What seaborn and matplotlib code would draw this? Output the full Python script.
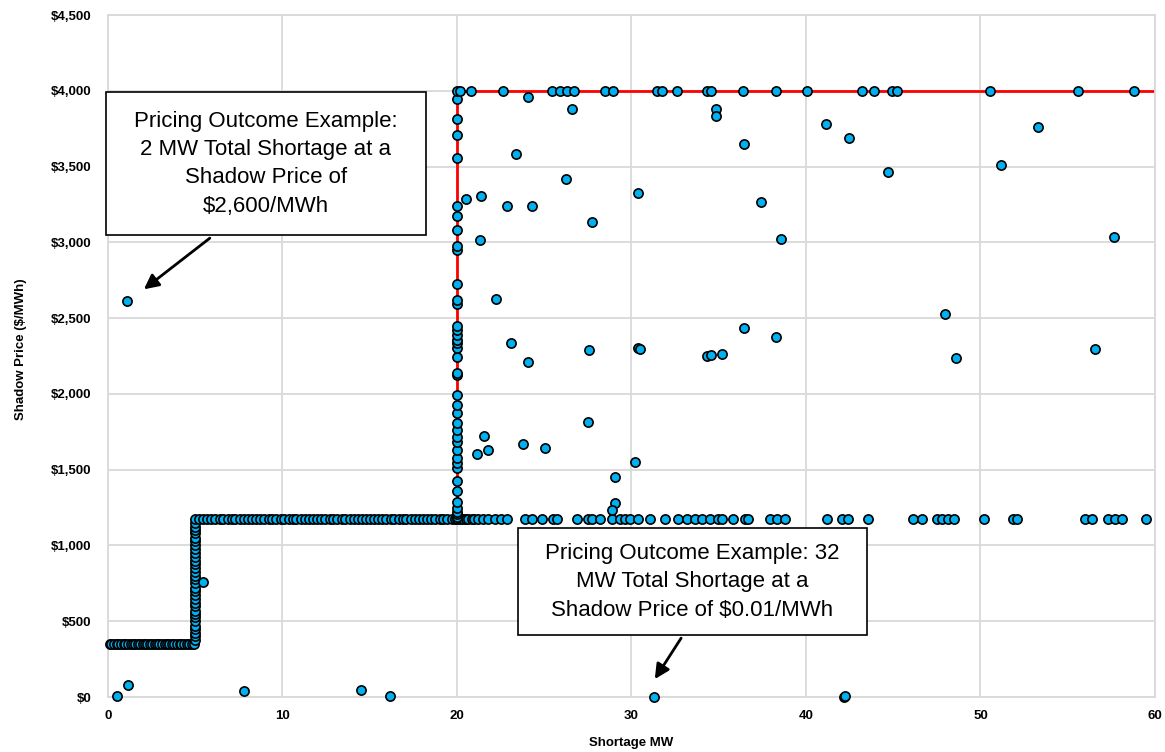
import numpy as np
import pandas as pd
import matplotlib
matplotlib.use("Agg")
from matplotlib import pyplot as plt
from matplotlib.patches import Rectangle
import seaborn as sns

# $350 floor step (0-5 MW)
floor_price = 350
floor_mw = [0.1, 0.2, 0.35, 0.5, 0.6, 0.75, 0.9, 1.0, 1.15, 1.3, 1.45, 1.55, 1.7, 1.85, 2.0, 2.1,
            2.25, 2.4, 2.55, 2.7, 2.8, 2.95, 3.1, 3.25, 3.4, 3.5, 3.65, 3.8, 3.95, 4.1, 4.2, 4.35,
            4.5, 4.65, 4.8, 4.95]

# riser at 5 MW
riser_mw = 5.0
riser_price = [375, 400, 420, 450, 470, 500, 525, 545, 570, 600, 620, 650, 675, 700, 720, 750,
               780, 800, 825, 850, 880, 900, 925, 950, 975, 1000, 1030, 1050, 1080, 1100, 1125, 1150]

# $1,175 plateau
plateau_price = 1175
plateau_mw = [5.0, 5.2, 5.45, 5.7, 5.9, 6.15, 6.4, 6.6, 6.85, 7.1, 7.3, 7.55, 7.8, 8.0, 8.25, 8.5,
              8.7, 8.95, 9.2, 9.4, 9.65, 9.9, 10.1, 10.35, 10.6, 10.8, 11.05, 11.3, 11.5, 11.75,
              12.0, 12.2, 12.45, 12.7, 12.9, 13.15, 13.4, 13.6, 13.85, 14.1, 14.3, 14.55, 14.8,
              15.0, 15.25, 15.5, 15.7, 15.95, 16.2, 16.4, 16.65, 16.9, 17.1, 17.35, 17.6, 17.8,
              18.05, 18.3, 18.5, 18.75, 19.0, 19.2, 19.45, 19.7, 19.9, 20.0, 20.15, 20.36, 20.5,
              20.65, 20.85, 21.0, 21.22, 21.5, 21.8, 22.18, 22.5, 22.85, 23.9, 24.28, 24.85,
              25.52, 25.71, 26.86, 27.53, 27.72, 28.19, 28.86, 29.34, 29.63, 29.91, 30.39, 31.06,
              31.92, 32.68, 33.16, 33.64, 34.02, 34.5, 34.98, 35.17, 35.84, 36.5, 36.69, 37.94,
              38.32, 38.8, 41.18, 42.04, 42.38, 43.57, 46.15, 46.63, 47.49, 47.77, 48.16, 48.48,
              50.2, 51.88, 52.07, 55.99, 56.37, 57.32, 57.71, 58.09, 59.47]

# column of outcomes at 20 MW
wall_mw = 20.0
wall_price = [1190, 1205, 1220, 1245, 1285, 1358, 1425, 1509, 1542, 1575, 1630, 1684, 1713, 1761,
              1806, 1875, 1924, 1990, 2124, 2139, 2241, 2300, 2333, 2355, 2386, 2421, 2447, 2596,
              2618, 2728, 2948, 2974, 3079, 3172, 3240, 3558, 3710, 3815, 3943]

# $4,000 cap
cap_price = 4000
cap_mw = [19.98, 20.17, 20.8, 22.65, 25.43, 25.9, 26.29, 26.7, 28.48, 28.96, 31.44, 31.73, 32.62,
          34.31, 34.54, 36.41, 38.28, 40.04, 43.23, 43.9, 44.91, 45.23, 50.54, 55.57, 58.81]

# scattered outcomes
other_mw = [24.09, 26.59, 34.86, 34.86, 36.46, 23.36, 26.23, 30.35, 37.44, 20.52, 21.4, 22.85,
            24.32, 27.76, 21.32, 38.55, 41.16, 42.46, 44.68, 53.31, 51.16, 57.65, 47.98, 48.58,
            56.54, 22.22, 23.07, 24.09, 27.57, 30.4, 30.5, 36.43, 38.3, 34.31, 34.54, 35.16,
            21.53, 21.13, 21.78, 23.8, 25.04, 27.49, 30.2, 29.07, 29.05, 28.91, 5.46, 1.11, 0.53,
            1.13, 7.79, 14.48, 16.16, 31.31, 42.2, 42.25]
other_price = [3956, 3881, 3879, 3831, 3648, 3582, 3416, 3328, 3266, 3286, 3304, 3240, 3240, 3137,
               3018, 3022, 3778, 3686, 3462, 3763, 3510, 3033, 2530, 2236, 2297, 2625, 2339, 2210,
               2289, 2300, 2294, 2438, 2376, 2251, 2258, 2262, 1720, 1605, 1630, 1671, 1645, 1812,
               1549, 1450, 1282, 1232, 762, 2614, 4, 81, 41, 48, 4, 0.01, 0, 8]

# red reference curve
ref_mw = [20, 20, 60]
ref_price = [1175, 4000, 4000]

df = pd.DataFrame({
    "mw": floor_mw + [riser_mw] * len(riser_price) + plateau_mw + [wall_mw] * len(wall_price)
          + cap_mw + other_mw,
    "price": [floor_price] * len(floor_mw) + riser_price + [plateau_price] * len(plateau_mw)
             + wall_price + [cap_price] * len(cap_mw) + other_price,
})
ref = pd.DataFrame({"mw": ref_mw, "price": ref_price})

sns.set_style("white")
plt.rcParams["font.family"] = ["Liberation Sans", "DejaVu Sans"]
plt.rcParams["text.color"] = "black"
plt.rcParams["axes.labelcolor"] = "black"
plt.rcParams["xtick.color"] = "black"
plt.rcParams["ytick.color"] = "black"

fig = plt.figure(figsize=(11.65, 7.52), dpi=100)
ax = fig.add_axes([0.0927, 0.0731, 0.8987, 0.9069])

sns.lineplot(data=ref, x="mw", y="price", sort=False, estimator=None, color="#FF0000",
             linewidth=2, ax=ax, zorder=2)
sns.scatterplot(data=df, x="mw", y="price", s=44, color="#00B0F0", edgecolor="black",
                linewidth=1.2, ax=ax, zorder=3, clip_on=False)

ax.set_xlim(0, 60)
ax.set_ylim(0, 4500)
ax.set_xticks(range(0, 61, 10))
ax.set_yticks(range(0, 4501, 500))
ax.yaxis.set_major_formatter(matplotlib.ticker.StrMethodFormatter("${x:,.0f}"))
ax.grid(True, color="#D9D9D9", linewidth=1.3)
ax.set_axisbelow(True)
for s in ax.spines.values():
    s.set_color("#D9D9D9")
    s.set_linewidth(1.3)
ax.tick_params(length=0, labelsize=9.5, labelcolor="black")
ax.tick_params(axis="y", pad=12)
ax.tick_params(axis="x", pad=9)
for lab in ax.get_xticklabels() + ax.get_yticklabels():
    lab.set_fontweight("bold")

ax.set_xlabel("Shortage MW", fontsize=9.5, fontweight="bold")
ax.set_ylabel("Shadow Price ($/MWh)", fontsize=9.5, fontweight="bold")
ax.xaxis.set_label_coords(0.4995, -0.058)
ax.yaxis.set_label_coords(-0.077, 0.51)

# callout boxes
ax.add_patch(Rectangle((-0.11, 3047), 18.33, 942, facecolor="white", edgecolor="black",
                       linewidth=1.2, zorder=5, clip_on=False))
ax.text(9.05, 3518, "Pricing Outcome Example:\n2 MW Total Shortage at a\nShadow Price of\n$2,600/MWh",
        ha="center", va="center", fontsize=16, linespacing=1.45, color="black", zorder=6)
ax.annotate("", xy=(1.93, 2679), xytext=(5.96, 3039),
            arrowprops=dict(arrowstyle="-|>", color="black", lw=2, mutation_scale=22), zorder=6)

ax.add_patch(Rectangle((23.51, 406), 19.97, 708, facecolor="white", edgecolor="black",
                       linewidth=1.2, zorder=5))
ax.text(33.5, 760, "Pricing Outcome Example: 32\nMW Total Shortage at a\nShadow Price of $0.01/MWh",
        ha="center", va="center", fontsize=16, linespacing=1.45, color="black", zorder=6)
ax.annotate("", xy=(31.25, 103), xytext=(32.93, 404),
            arrowprops=dict(arrowstyle="-|>", color="black", lw=2, mutation_scale=22), zorder=6)

fig.savefig("out.png", dpi=100)
